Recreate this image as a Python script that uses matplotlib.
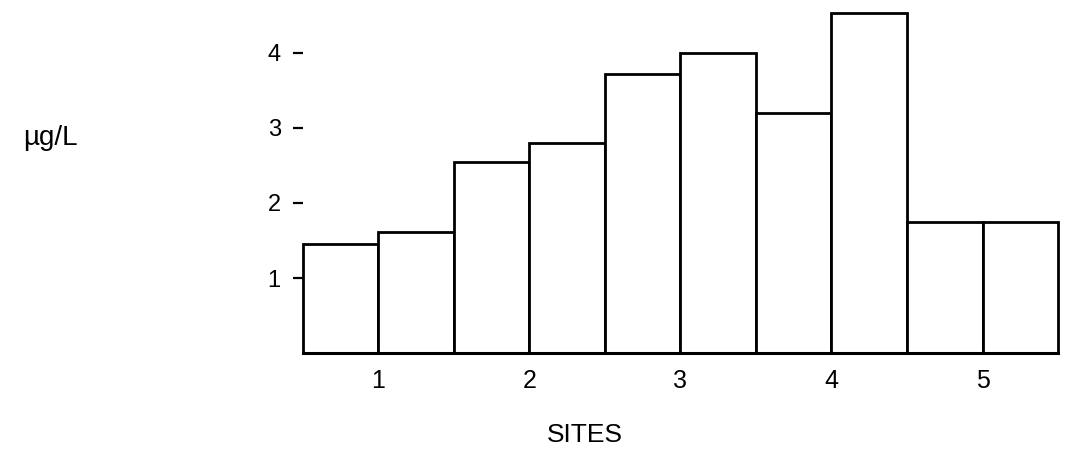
import numpy as np
from matplotlib import pyplot as plt

plt.rcParams['font.family'] = ['Liberation Sans', 'DejaVu Sans']

# two bars per site, values in ug/L
sites = ['1', '2', '3', '4', '5']
values = [1.45, 1.62, 2.55, 2.80, 3.72, 4.00, 3.20, 4.53, 1.75, 1.75]
yticks = [1, 2, 3, 4]

fig = plt.figure(figsize=(10.66, 4.5), dpi=100)
ax = fig.add_axes([0.2842, 0.2149, 0.7083, 0.7851])

xpos = np.arange(len(values))
bars = ax.bar(xpos, values, width=1.0, color='white', edgecolor='black', linewidth=2.0)
for b in bars:
    b.set_clip_on(False)

ax.set_xlim(-0.5, len(values) - 0.5)
ax.set_ylim(0, 4.7)

# site labels sit between each pair of bars
ax.set_xticks(np.arange(0.5, len(values), 2))
ax.set_xticklabels(sites, fontsize=18)
ax.tick_params(axis='x', length=0, pad=11)

ax.set_yticks(yticks)
ax.set_yticklabels([str(t) for t in yticks], fontsize=17)
ax.tick_params(axis='y', length=7, width=1.6, pad=9, direction='out')

for side in ['top', 'right', 'left']:
    ax.spines[side].set_visible(False)
ax.spines['bottom'].set_linewidth(2.2)

fig.text(0.047, 0.678, 'µg/L', fontsize=20, ha='center', va='baseline')
fig.text(0.549, 0.018, 'SITES', fontsize=19, ha='center', va='baseline')

fig.savefig('out.png', facecolor='white')
plt.close(fig)
